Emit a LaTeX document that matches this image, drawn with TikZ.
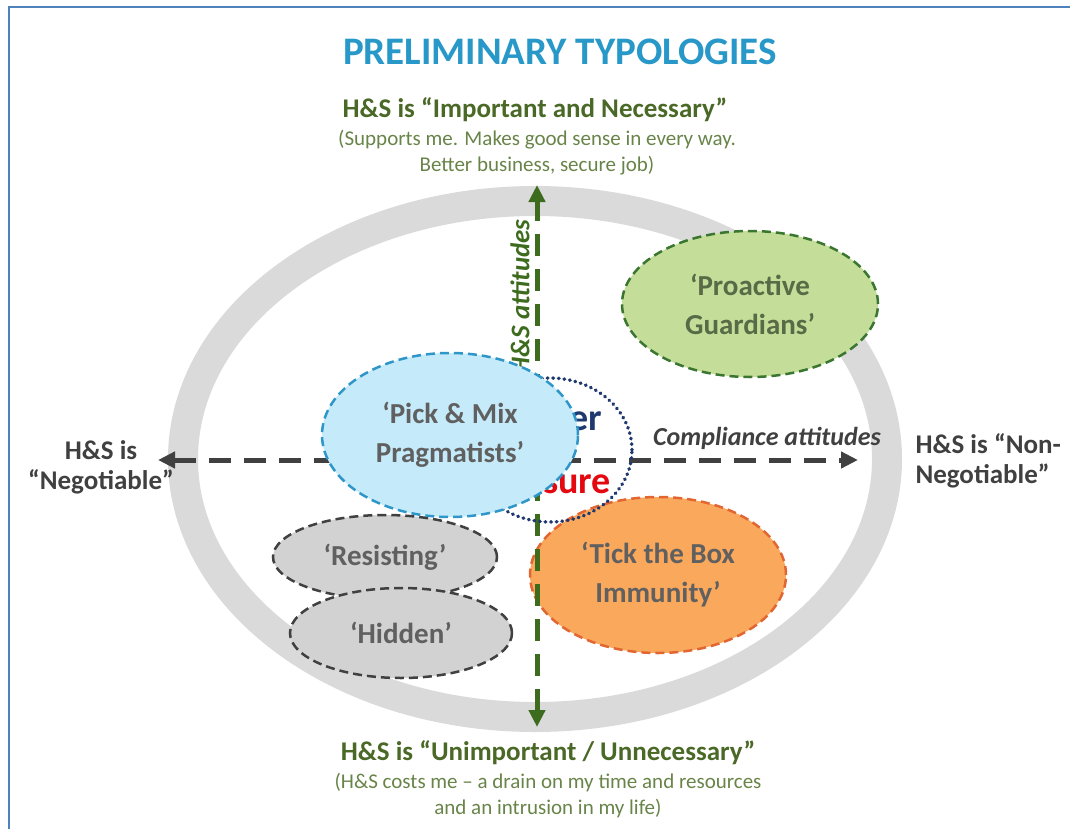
\documentclass[tikz,border=0pt]{standalone}
\usepackage{fontspec}
\setmainfont{Carlito}
\usetikzlibrary{shapes.geometric,arrows.meta}

\definecolor{frameblue}{RGB}{79,129,189}
\definecolor{titleblue}{RGB}{40,152,200}
\definecolor{headgreen}{RGB}{74,104,38}
\definecolor{subgreen}{RGB}{104,132,72}
\definecolor{axisgreen}{RGB}{62,108,30}
\definecolor{axisgray}{RGB}{64,64,64}
\definecolor{ringgray}{RGB}{218,218,218}
\definecolor{textgray}{RGB}{96,96,96}
\definecolor{pickfill}{RGB}{197,234,250}
\definecolor{pickline}{RGB}{46,150,200}
\definecolor{guardfill}{RGB}{196,222,154}
\definecolor{guardline}{RGB}{58,118,48}
\definecolor{guardtext}{RGB}{88,106,70}
\definecolor{hidefill}{RGB}{210,210,210}
\definecolor{tickfill}{RGB}{250,168,92}
\definecolor{tickline}{RGB}{226,102,50}
\definecolor{navy}{RGB}{31,56,110}
\definecolor{pressred}{RGB}{228,8,16}

\begin{document}
\begin{tikzpicture}[x=1pt, y=-1pt,
  typo/.style={shape=ellipse, inner sep=0pt, line width=2.5pt, dash pattern=on 9pt off 5pt, align=center, text=textgray, font=\fontsize{29}{39}\selectfont\bfseries},
  axis/.style={line width=5pt, dash pattern=on 22pt off 13pt, >={Triangle[length=17pt,width=16pt]}, <->},
  pole/.style={align=center, font=\fontsize{27}{30}\selectfont\bfseries, text=axisgray},
  note/.style={align=center, font=\fontsize{21}{26}\selectfont, text=subgreen}]
\useasboundingbox (0,0) rectangle (1070,829);
\draw[frameblue, line width=2.5pt] (9,829) -- (9,7) -- (1070,7);

\node[font=\fontsize{39}{39}\selectfont\bfseries, text=titleblue] (title) at (560,52) {PRELIMINARY TYPOLOGIES};
\node[font=\fontsize{27}{30}\selectfont\bfseries, text=headgreen] (important) at (535,110) {H\&S is “Important and Necessary”};
\node[note] (supports) at (537,153) {(Supports me. Makes good sense in every way.\\Better business, secure job)};
\node[font=\fontsize{27}{30}\selectfont\bfseries, text=headgreen] (unimportant) at (548,753) {H\&S is “Unimportant / Unnecessary”};
\node[note] (costs) at (548,796) {(H\&S costs me – a drain on my time and resources\\and an intrusion in my life)};

\node[shape=ellipse, draw=ringgray, line width=30pt, minimum width=704pt, minimum height=516pt] (ring) at (535,459) {};

\node[typo, draw=guardline, fill=guardfill, text=guardtext, minimum width=256pt, minimum height=146pt] (guardians) at (750,304) {‘Proactive\\Guardians’};
\node[typo, draw=tickline, fill=tickfill, minimum width=256pt, minimum height=156pt] (tickbox) at (658,575) {‘Tick the Box\\Immunity’};
\node[typo, draw=axisgray, fill=hidefill, minimum width=224pt, minimum height=84pt] (resisting) at (385,557) {‘Resisting’};
\node[typo, draw=axisgray, fill=hidefill, minimum width=222pt, minimum height=90pt] (hidden) at (401,633) {‘Hidden’};

\node[anchor=base west, inner sep=0pt, font=\fontsize{38}{38}\selectfont\bfseries, text=navy] (power) at (569,430) {er};
\node[anchor=base west, inner sep=0pt, font=\fontsize{38}{38}\selectfont\bfseries, text=pressred] (pressure) at (543,493) {sure};

\coordinate (west) at (158,460);
\coordinate (east) at (858,460);
\coordinate (north) at (537,185);
\coordinate (south) at (537,727);
\draw [axis, axisgray] (west) -- (east);
\draw [axis, axisgreen] (south) -- (north);

\node[shape=ellipse, draw=navy, line width=3.5pt, line cap=round, dash pattern=on 0.6pt off 5pt, minimum width=164pt, minimum height=144pt] (focus) at (550,450) {};

\node[rotate=90, font=\fontsize{27}{30}\selectfont\bfseries\itshape, text=axisgreen] (attitudes) at (520,297) {H\&S attitudes};
\node[font=\fontsize{26}{30}\selectfont\bfseries\itshape, text=axisgray] (compliance) at (767,438) {Compliance attitudes};
\node[pole] (negotiable) at (101,467) {H\&S is\\“Negotiable”};
\node[pole, align=left, anchor=west] (nonnegotiable) at (912,461) {H\&S is “Non-\\Negotiable”};

\node[typo, draw=pickline, fill=pickfill, minimum width=256pt, minimum height=164pt] (pickmix) at (450,435) {‘Pick \& Mix\\Pragmatists’};
\end{tikzpicture}
\end{document}
